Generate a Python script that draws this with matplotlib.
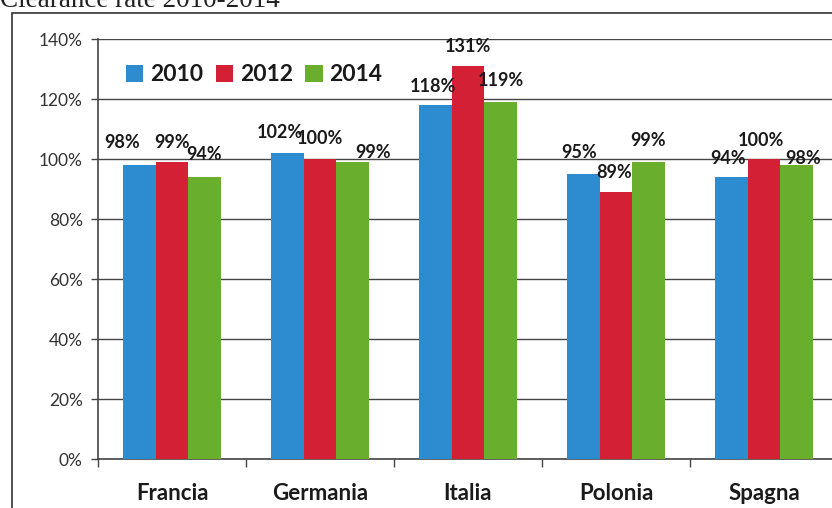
import numpy as np
import matplotlib.pyplot as plt
from matplotlib.patches import Rectangle
from matplotlib.ticker import FixedLocator, PercentFormatter

plt.rcParams['font.family'] = ['Lato', 'DejaVu Sans']

countries = ['Francia', 'Germania', 'Italia', 'Polonia', 'Spagna']
years = ['2010', '2012', '2014']
v2010 = [98, 102, 118, 95, 94]
v2012 = [99, 100, 131, 89, 100]
v2014 = [94, 99, 119, 99, 98]
colors = ['#2D8BD0', '#D42035', '#6AAE2E']

# label nudges in pixels (dx, dy above bar top), by country then year
nudges = [[(-17, 22), (0, 19), (0, 23)],
          [(-8, 21), (0, 21), (21, 9)],
          [(-2, 19), (0, 20), (0, 21)],
          [(-4, 21), (-2, 20), (0, 22)],
          [(-3, 19), (-3, 18), (7, 7)]]

fig = plt.figure(figsize=(8.32, 5.08), dpi=100, facecolor='white')
ax = fig.add_axes([98 / 832, 1 - 459 / 508, 740 / 832, 420 / 508])

x = np.arange(len(countries))
w = 0.22
series = [v2010, v2012, v2014]
for i, vals in enumerate(series):
    bars = ax.bar(x + (i - 1) * w, vals, w, color=colors[i], label=years[i], zorder=3)
    for j, b in enumerate(bars):
        dx, dy = nudges[j][i]
        ax.annotate(f'{vals[j]}%', (b.get_x() + b.get_width() / 2, vals[j]),
                    xytext=(dx, dy), textcoords='offset pixels',
                    ha='center', va='center', fontsize=13, fontweight='bold',
                    color='#1a1a1a', zorder=4)

ax.set_xlim(-0.5, 4.5)
ax.set_ylim(0, 140)
ax.set_yticks(np.arange(0, 141, 20))
ax.yaxis.set_major_formatter(PercentFormatter(decimals=0))
ax.grid(axis='y', color='#444444', linewidth=1, zorder=0)
ax.set_axisbelow(True)

ax.set_xticks(x)
ax.set_xticklabels(countries, fontsize=16, fontweight='bold', color='#1a1a1a')
ax.tick_params(axis='x', which='major', length=0, pad=17)
ax.xaxis.set_minor_locator(FixedLocator(np.arange(-0.5, 5, 1)))
ax.tick_params(axis='x', which='minor', length=6, width=1, color='#444444', direction='out')
ax.tick_params(axis='y', length=5, width=1, color='#444444', labelsize=12.5,
               labelcolor='#333333', pad=6)

for s in ['top', 'right']:
    ax.spines[s].set_visible(False)
for s in ['left', 'bottom']:
    ax.spines[s].set_color('#444444')
    ax.spines[s].set_linewidth(1.2)

leg = ax.legend(loc='center left', bbox_to_anchor=(0.01, 0.915), ncol=3, frameon=False,
                handlelength=0.75, handleheight=0.75, handletextpad=0.3,
                columnspacing=0.55, prop={'size': 16.5, 'weight': 'bold'})
for t in leg.get_texts():
    t.set_color('#1a1a1a')

# outer chart border
fig.patches.append(Rectangle((12 / 832, -0.1), 1.0, 1.1 - 13 / 508, transform=fig.transFigure,
                             fill=False, edgecolor='#333333', linewidth=1.2))

fig.text(0.0, 1 - 7 / 508, 'Clearance rate 2010-2014', family=['Liberation Serif', 'DejaVu Serif'],
         fontsize=19.5, va='baseline', ha='left', color='#222222')

plt.savefig('out.png', dpi=100)
